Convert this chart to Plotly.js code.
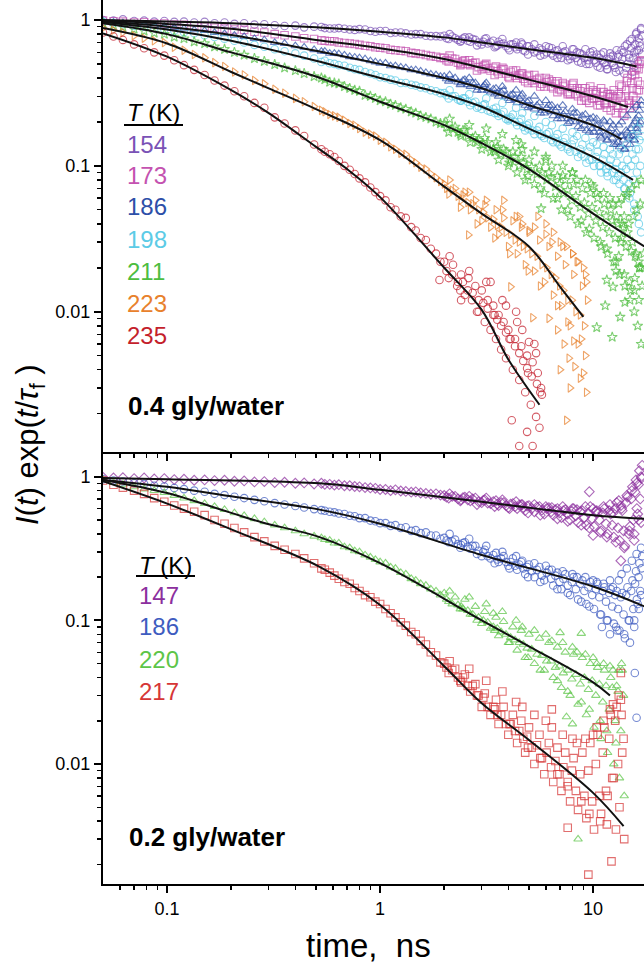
<!DOCTYPE html>
<html><head><meta charset="utf-8">
<script src="https://cdn.plot.ly/plotly-3.0.1.min.js"></script>
<style>body{margin:0;background:#fff}#chart{width:644px;height:965px}</style>
</head><body><div id="chart"></div>
<script>
// ---------- DATA ----------
// time grids (ns), shared by the series
const TA = [0.05,0.056,0.062,0.07,0.078,0.087,0.097,0.108,0.12,0.134,0.15,0.167,0.186,0.207,0.23,0.257,0.286,0.32,0.356,0.4,0.44,0.49,0.55,0.61,0.68,0.76,0.85,0.95,1.06,1.18,1.32,1.47,1.64,1.83];
const TM = [0.53,0.58,0.64,0.72,0.8,0.9,1.0,1.12,1.25,1.4,1.55,1.73,1.92];
const TB = [2.0,2.1,2.25,2.4,2.5,2.65,2.8,3.0,3.1,3.3,3.5,3.6,3.8,4.0,4.2,4.4,4.6,4.8,5.0,5.3,5.6,5.9,6.2,6.5,6.8,7.1,7.4,7.8,8.1,8.5,8.9,9.3,9.7,10.1,10.5,10.9,11.3,11.7,12.1,12.5,12.9,13.3,13.7,14.1,14.5,14.9,15.3,15.6,15.9,16.2,16.5,16.8,17.0];
const TC = [2.05,2.18,2.32,2.45,2.58,2.72,2.9,3.05,3.2,3.4,3.55,3.7,3.9,4.1,4.3,4.5,4.7,4.9,5.15,5.45,5.75,6.05,6.35,6.65,6.95,7.25,7.6,7.95,8.3,8.7,9.1,9.5,9.9,10.3,10.7,11.1,11.5,11.9,12.3,12.7,13.1,13.5,13.9,14.3,14.7,15.1,15.45,15.75,16.05,16.35,16.65,16.9];
const TD = [2.12,2.38,2.62,2.85,3.15,3.45,3.75,4.05,4.35,4.65,4.95,5.3,5.65,6.0,6.4,6.8,7.2,7.6,8.0,8.4,8.8,9.2,9.6,10.0,10.4,10.8,11.2,11.6,12.0,12.4,12.8,13.2,13.6,14.0,14.4,14.8,15.2,15.6,16.0,16.4,16.8];
const T_red_top = [2.0,2.1,2.2,2.3,2.4,2.5,2.6,2.7,2.8,2.9,3.0,3.1,3.2,3.3,3.4,3.5,3.6,3.7,3.8,3.9,4.0,4.2,4.3,4.5,4.6,4.8,4.9,5.1,5.2,5.4,5.5,5.6,5.7];

// ---- top panel: 0.4 gly/water ----
const topLabels = ["154","173","186","198","211","223","235"];
const e154 = [1.00,0.99,1.01,0.985,0.99,0.975,0.985,0.97,0.975,0.96,0.97,0.95,0.96,0.94,0.95,0.93,0.935,0.92,0.91,0.915,0.89,0.9,0.88,0.875,0.87,0.855,0.86,0.83,0.84,0.82,0.81,0.80,0.78,0.775];
const m154 = [0.895,0.875,0.88,0.86,0.865,0.84,0.84,0.815,0.82,0.795,0.80,0.775,0.77];
const l154 = [0.78,0.74,0.75,0.72,0.76,0.71,0.73,0.68,0.74,0.70,0.66,0.71,0.69,0.64,0.68,0.63,0.70,0.61,0.66,0.60,0.64,0.58,0.65,0.57,0.62,0.55,0.61,0.54,0.63,0.52,0.58,0.50,0.60,0.53,0.48,0.58,0.51,0.46,0.56,0.49,0.62,0.45,0.54,0.66,0.50,0.72,0.44,0.60,0.80,0.52,0.70,0.86,0.58];
const c154 = [0.75,0.77,0.73,0.745,0.72,0.74,0.70,0.71,0.69,0.72,0.67,0.685,0.66,0.68,0.65,0.655,0.62,0.66,0.63,0.61,0.625,0.60,0.59,0.61,0.58,0.60,0.565,0.57,0.55,0.59,0.55,0.53,0.57,0.51,0.55,0.53,0.49,0.54,0.51,0.47,0.56,0.50,0.60,0.47,0.58,0.64,0.55,0.68,0.62,0.75,0.66,0.78];
const d154 = [0.80,0.71,0.76,0.67,0.75,0.65,0.74,0.62,0.70,0.68,0.58,0.68,0.57,0.66,0.64,0.55,0.66,0.53,0.63,0.60,0.51,0.63,0.50,0.61,0.58,0.47,0.60,0.46,0.59,0.57,0.44,0.58,0.62,0.43,0.68,0.55,0.74,0.48,0.82,0.62,0.88];
const e173 = [0.99,0.98,0.975,0.96,0.965,0.945,0.945,0.93,0.925,0.905,0.90,0.885,0.875,0.86,0.855,0.83,0.82,0.80,0.785,0.77,0.75,0.74,0.72,0.715,0.695,0.685,0.665,0.65,0.64,0.62,0.61,0.59,0.575,0.56];
const m173 = [0.725,0.715,0.70,0.69,0.675,0.66,0.645,0.625,0.615,0.595,0.585,0.565,0.55];
const l173 = [0.55,0.52,0.54,0.50,0.53,0.49,0.51,0.46,0.49,0.45,0.48,0.43,0.46,0.41,0.45,0.40,0.43,0.38,0.42,0.37,0.40,0.35,0.39,0.34,0.38,0.33,0.36,0.31,0.37,0.30,0.34,0.28,0.35,0.29,0.26,0.34,0.27,0.31,0.24,0.33,0.26,0.36,0.23,0.30,0.40,0.25,0.34,0.45,0.28,0.38,0.50];
const c173 = [0.53,0.545,0.51,0.52,0.50,0.505,0.475,0.48,0.465,0.47,0.445,0.455,0.43,0.44,0.415,0.42,0.395,0.41,0.385,0.39,0.365,0.375,0.35,0.365,0.335,0.35,0.32,0.34,0.31,0.325,0.295,0.32,0.29,0.31,0.28,0.30,0.265,0.295,0.27,0.29,0.25,0.30,0.26,0.33,0.27,0.37,0.30,0.42,0.33,0.46,0.36,0.52];
const d173 = [0.57,0.49,0.53,0.45,0.50,0.42,0.47,0.40,0.45,0.43,0.37,0.42,0.35,0.40,0.38,0.32,0.37,0.31,0.36,0.34,0.28,0.34,0.27,0.33,0.32,0.26,0.32,0.25,0.31,0.30,0.23,0.31,0.35,0.22,0.38,0.28,0.42,0.26,0.47,0.33,0.53];
const e186 = [0.98,0.965,0.955,0.94,0.93,0.915,0.905,0.885,0.875,0.855,0.845,0.82,0.805,0.785,0.77,0.745,0.73,0.70,0.69,0.665,0.65,0.625,0.61,0.59,0.575,0.555,0.54,0.515,0.505,0.485,0.47,0.455,0.435,0.42];
const m186 = [0.61,0.59,0.585,0.56,0.55,0.525,0.505,0.485,0.475,0.455,0.445,0.425,0.41];
const l186 = [0.41,0.38,0.40,0.37,0.39,0.35,0.37,0.33,0.36,0.32,0.34,0.30,0.33,0.29,0.31,0.27,0.30,0.26,0.28,0.245,0.27,0.23,0.26,0.22,0.25,0.21,0.235,0.20,0.23,0.185,0.22,0.175,0.21,0.17,0.19,0.155,0.20,0.15,0.18,0.14,0.17,0.135,0.16,0.13,0.17,0.14,0.19,0.15,0.21,0.17,0.24];
const c186 = [0.395,0.39,0.375,0.385,0.36,0.37,0.345,0.35,0.33,0.335,0.315,0.32,0.30,0.305,0.285,0.29,0.27,0.275,0.255,0.26,0.24,0.25,0.235,0.24,0.22,0.225,0.21,0.215,0.20,0.205,0.19,0.20,0.18,0.19,0.17,0.18,0.165,0.17,0.155,0.165,0.145,0.16,0.15,0.175,0.155,0.18,0.16,0.20,0.18,0.22,0.20,0.26];
const d186 = [0.42,0.36,0.40,0.33,0.37,0.31,0.35,0.28,0.33,0.31,0.25,0.30,0.23,0.28,0.26,0.21,0.26,0.195,0.245,0.23,0.18,0.225,0.17,0.215,0.21,0.16,0.205,0.15,0.20,0.19,0.14,0.19,0.20,0.13,0.22,0.16,0.24,0.15,0.26,0.19,0.28];
const e198 = [0.97,0.95,0.935,0.915,0.90,0.88,0.865,0.845,0.825,0.81,0.785,0.765,0.745,0.72,0.70,0.675,0.655,0.63,0.61,0.59,0.57,0.545,0.525,0.50,0.485,0.46,0.44,0.42,0.40,0.385,0.37,0.355,0.34,0.325];
const m198 = [0.515,0.505,0.49,0.47,0.455,0.43,0.405,0.39,0.37,0.36,0.345,0.33,0.315];
const l198 = [0.315,0.29,0.30,0.28,0.29,0.26,0.275,0.245,0.265,0.235,0.25,0.22,0.235,0.205,0.225,0.19,0.21,0.175,0.195,0.165,0.185,0.155,0.17,0.145,0.165,0.135,0.155,0.125,0.15,0.115,0.14,0.105,0.135,0.10,0.125,0.09,0.12,0.085,0.11,0.08,0.105,0.075,0.10,0.07,0.11,0.065,0.12,0.055,0.13,0.045,0.15,0.035];
const c198 = [0.305,0.30,0.285,0.29,0.275,0.27,0.255,0.26,0.24,0.245,0.23,0.225,0.21,0.215,0.20,0.20,0.185,0.19,0.175,0.175,0.16,0.165,0.15,0.155,0.14,0.145,0.13,0.14,0.125,0.13,0.115,0.125,0.11,0.115,0.10,0.11,0.095,0.10,0.09,0.095,0.085,0.09,0.08,0.095,0.075,0.10,0.08,0.11,0.09,0.13,0.10,0.16];
const d198 = [0.33,0.28,0.31,0.25,0.29,0.23,0.27,0.21,0.25,0.23,0.18,0.22,0.165,0.20,0.19,0.145,0.18,0.135,0.17,0.16,0.12,0.155,0.11,0.145,0.14,0.10,0.135,0.09,0.13,0.12,0.08,0.12,0.13,0.07,0.14,0.06,0.16,0.05,0.18,0.04,0.20];
const e211 = [0.95,0.92,0.895,0.865,0.84,0.815,0.80,0.765,0.745,0.71,0.69,0.655,0.63,0.60,0.575,0.545,0.52,0.495,0.47,0.45,0.43,0.41,0.39,0.37,0.35,0.33,0.305,0.29,0.275,0.26,0.245,0.23,0.215,0.20];
const m211 = [0.40,0.375,0.365,0.34,0.325,0.30,0.28,0.265,0.25,0.235,0.22,0.21,0.195];
const l211 = [0.195,0.17,0.185,0.16,0.175,0.145,0.16,0.13,0.155,0.125,0.145,0.11,0.13,0.10,0.125,0.09,0.115,0.08,0.11,0.075,0.10,0.065,0.09,0.06,0.085,0.05,0.08,0.045,0.075,0.04,0.07,0.035,0.065,0.032,0.06,0.028,0.055,0.025,0.05,0.022,0.045,0.018,0.04,0.015,0.035,0.012,0.03,0.01,0.025,0.008,0.02,0.006,0.015];
const c211 = [0.185,0.18,0.17,0.175,0.16,0.155,0.15,0.14,0.145,0.13,0.135,0.12,0.125,0.11,0.115,0.10,0.105,0.095,0.098,0.088,0.09,0.08,0.083,0.072,0.075,0.065,0.068,0.058,0.062,0.052,0.056,0.047,0.052,0.042,0.048,0.038,0.045,0.035,0.042,0.032,0.04,0.03,0.038,0.028,0.04,0.026,0.045,0.024,0.05,0.022,0.055,0.02];
const d211 = [0.21,0.165,0.19,0.145,0.18,0.125,0.165,0.105,0.15,0.13,0.085,0.125,0.07,0.115,0.10,0.06,0.10,0.05,0.09,0.08,0.042,0.08,0.037,0.072,0.065,0.03,0.065,0.027,0.06,0.055,0.022,0.055,0.06,0.018,0.065,0.016,0.07,0.014,0.075,0.012,0.08];
const o211x = [11.6,10.4,12.3,13.4,11.4,7.2,5.7,14.4,14.0,13.6,13.2,12.8,12.4,17.3,16.5,15.7,15.0,14.1,6.0,8.0,9.8,4.6];
const o211y = [0.0165,0.0078,0.0067,0.0092,0.011,0.086,0.051,0.062,0.045,0.032,0.024,0.019,0.0148,0.025,0.02,0.017,0.014,0.0116,0.11,0.09,0.075,0.14];
const e223 = [0.88,0.85,0.82,0.78,0.75,0.72,0.70,0.65,0.62,0.58,0.55,0.51,0.48,0.44,0.42,0.385,0.365,0.335,0.315,0.29,0.275,0.255,0.235,0.22,0.205,0.19,0.17,0.16,0.145,0.13,0.12,0.105,0.095,0.083];
const m223 = [0.24,0.225,0.215,0.195,0.18,0.165,0.15,0.135,0.122,0.11,0.098,0.088,0.078];
const l223 = [0.075,0.064,0.07,0.058,0.066,0.05,0.058,0.042,0.054,0.038,0.05,0.034,0.044,0.028,0.042,0.025,0.038,0.021,0.035,0.019,0.031,0.016,0.028,0.013,0.024,0.011,0.021,0.008,0.018,0.006,0.015];
const c223 = [0.07,0.068,0.062,0.063,0.056,0.055,0.05,0.048,0.044,0.043,0.039,0.038,0.035,0.034,0.031,0.030,0.028,0.027,0.025,0.024,0.021,0.020,0.018,0.017,0.015,0.014,0.012,0.012,0.010,0.0095,0.008];
const d223 = [0.08,0.052,0.066,0.040,0.058,0.032,0.05,0.025,0.045,0.04,0.019,0.038,0.015,0.034,0.03,0.011,0.028,0.0085,0.025,0.022,0.0065,0.018];
const o223x = [9.2,9.4,7.5,9.0,8.1,7.0,4.1,2.6,5.0,5.2,7.8,5.5,6.0,6.5,7.0,7.5,8.0,8.5,9.0,9.3,6.2,6.8,7.3,7.7,8.2,8.7,9.3,4.5,3.8];
const o223y = [0.005,0.012,0.0018,0.0038,0.0063,0.004,0.0148,0.0336,0.036,0.0091,0.003,0.045,0.04,0.035,0.03,0.028,0.025,0.022,0.02,0.016,0.009,0.0075,0.006,0.0048,0.0042,0.0035,0.0028,0.045,0.058];
const e235 = [0.82,0.77,0.73,0.68,0.64,0.60,0.57,0.53,0.49,0.455,0.42,0.385,0.355,0.325,0.30,0.27,0.25,0.215,0.195,0.175,0.16,0.14,0.125,0.115,0.10,0.088,0.077,0.066,0.058,0.050,0.044,0.036,0.031,0.025];
const m235 = [0.13,0.12,0.108,0.094,0.082,0.071,0.062,0.052,0.045,0.038,0.032,0.027,0.022];
const l235 = [0.022,0.017,0.021,0.015,0.018,0.013,0.017,0.012,0.015,0.010,0.014,0.0085,0.012,0.0075,0.011,0.0065,0.0095,0.0055,0.0085,0.0048,0.0075,0.0040,0.0065,0.0034,0.0058,0.0028,0.005,0.0023,0.0045,0.0019,0.0038,0.0016,0.003];
const c235 = [0.019,0.018,0.016,0.016,0.014,0.0135,0.012,0.0115,0.0105,0.0095,0.0088,0.008,0.0072,0.0065,0.0058,0.0052,0.0046,0.0041,0.0036,0.0032,0.0027];
const d235 = [0.024,0.014,0.019,0.010,0.016,0.0095,0.012,0.0065,0.010,0.0075,0.0038,0.006,0.0028];
const o235x = [4.15,4.5,5.2,4.9,1.9,2.4,3.3,3.9,4.4,5.0,5.4];
const o235y = [0.0018,0.0012,0.0012,0.0015,0.0165,0.012,0.016,0.011,0.0085,0.0062,0.0052];

// fits (top)
const f154t = [0.05,0.1,0.2,0.5,1,2,3,5,10,16];
const f154y = [1.0,0.975,0.95,0.89,0.83,0.76,0.70,0.63,0.55,0.48];
const f173t = [0.05,0.1,0.2,0.5,1,2,3,5,10,14.6];
const f173y = [0.99,0.94,0.87,0.73,0.64,0.54,0.47,0.39,0.30,0.253];
const f186t = [0.05,0.1,0.2,0.5,1,2,3,5,10,13.6];
const f186y = [0.98,0.90,0.79,0.615,0.50,0.40,0.34,0.26,0.19,0.152];
const f198t = [0.05,0.1,0.2,0.5,1,2,3,5,10,15.4];
const f198y = [0.97,0.86,0.72,0.525,0.40,0.31,0.254,0.18,0.115,0.08];
const f211t = [0.05,0.1,0.2,0.5,1,2,3,5,10,17.4];
const f211y = [0.95,0.80,0.60,0.41,0.275,0.19,0.143,0.095,0.047,0.028];
const f223t = [0.05,0.1,0.2,0.3,0.5,1,2,3,5,7,9];
const f223y = [0.88,0.69,0.44,0.34,0.245,0.15,0.072,0.047,0.028,0.0148,0.0092];
const f235t = [0.05,0.1,0.2,0.3,0.5,0.7,1,2,3,4,5.6];
const f235y = [0.81,0.56,0.33,0.23,0.135,0.095,0.061,0.020,0.0103,0.0047,0.0023];

// ---- bottom panel: 0.2 gly/water ----
const botLabels = ["147","186","220","217"];
const e147 = [0.99,0.98,0.985,0.97,0.98,0.965,0.97,0.955,0.96,0.945,0.95,0.94,0.945,0.93,0.935,0.92,0.925,0.91,0.915,0.90,0.905,0.89,0.885,0.875,0.865,0.855,0.84,0.83,0.815,0.81,0.79,0.785,0.765,0.76];
const m147 = [0.90,0.885,0.88,0.865,0.85,0.835,0.815,0.80,0.795,0.78,0.77,0.755,0.745];
const l147 = [0.74,0.71,0.73,0.69,0.72,0.68,0.71,0.66,0.69,0.65,0.68,0.63,0.66,0.61,0.65,0.60,0.64,0.58,0.63,0.57,0.62,0.55,0.61,0.54,0.60,0.52,0.59,0.50,0.60,0.48,0.58,0.46,0.62,0.45,0.56,0.42,0.60,0.40,0.55,0.38,0.66,0.36,0.58,0.33,0.72,0.45,0.85,0.40,0.95,0.55,1.1,0.48,1.2];
const c147 = [0.72,0.73,0.70,0.715,0.69,0.70,0.67,0.685,0.655,0.67,0.645,0.66,0.63,0.645,0.62,0.635,0.61,0.625,0.60,0.615,0.585,0.60,0.57,0.59,0.56,0.58,0.55,0.575,0.535,0.57,0.52,0.56,0.51,0.57,0.50,0.56,0.47,0.58,0.46,0.60,0.44,0.63,0.42,0.66,0.40,0.70,0.50,0.78,0.60,0.88,0.70,0.98];
const d147 = [0.76,0.68,0.73,0.64,0.71,0.62,0.69,0.60,0.67,0.64,0.56,0.64,0.54,0.62,0.61,0.51,0.62,0.49,0.60,0.59,0.46,0.62,0.44,0.60,0.58,0.41,0.62,0.38,0.64,0.56,0.35,0.68,0.60,0.32,0.74,0.42,0.80,0.36,0.90,0.50,1.0];
const o147x = [9.6,10.0,13.5];
const o147y = [0.786,0.39,0.26];
const e186b = [0.96,0.94,0.925,0.90,0.89,0.865,0.855,0.835,0.82,0.80,0.785,0.76,0.745,0.725,0.71,0.69,0.675,0.655,0.64,0.625,0.61,0.595,0.58,0.565,0.55,0.53,0.515,0.49,0.475,0.46,0.445,0.425,0.41,0.39];
const m186b = [0.585,0.57,0.555,0.535,0.515,0.495,0.475,0.455,0.44,0.42,0.405,0.39,0.37];
const l186b = [0.375,0.35,0.365,0.335,0.35,0.315,0.33,0.28,0.31,0.27,0.295,0.255,0.28,0.24,0.27,0.225,0.255,0.21,0.245,0.20,0.235,0.19,0.225,0.175,0.215,0.165,0.21,0.15,0.20,0.14,0.19,0.13,0.185,0.12,0.18,0.11,0.17,0.10,0.165,0.095,0.16,0.085,0.155,0.075,0.17,0.07,0.19,0.10,0.22,0.13,0.25,0.15,0.28];
const c186b = [0.36,0.355,0.34,0.345,0.325,0.33,0.305,0.30,0.28,0.285,0.265,0.27,0.255,0.255,0.24,0.245,0.23,0.235,0.22,0.225,0.205,0.215,0.195,0.205,0.185,0.195,0.175,0.185,0.165,0.18,0.16,0.17,0.15,0.165,0.145,0.16,0.135,0.155,0.125,0.15,0.12,0.145,0.11,0.15,0.10,0.16,0.12,0.18,0.14,0.20,0.16,0.23];
const d186b = [0.40,0.32,0.37,0.29,0.33,0.25,0.30,0.23,0.28,0.26,0.20,0.25,0.185,0.24,0.225,0.165,0.22,0.155,0.21,0.20,0.135,0.20,0.125,0.19,0.185,0.11,0.18,0.10,0.19,0.17,0.09,0.19,0.21,0.08,0.23,0.10,0.26,0.09,0.29,0.12,0.32];
const o186bx = [15.7,16.0,13.0,11.0,12.0];
const o186by = [0.043,0.021,0.085,0.09,0.08];
const e220 = [0.95,0.91,0.885,0.85,0.82,0.80,0.775,0.74,0.71,0.68,0.65,0.62,0.59,0.56,0.535,0.51,0.485,0.46,0.44,0.42,0.40,0.385,0.365,0.345,0.325,0.305,0.285,0.265,0.25,0.23,0.21,0.19,0.175,0.16];
const m220 = [0.375,0.36,0.345,0.32,0.30,0.275,0.255,0.235,0.215,0.195,0.18,0.165,0.15];
const l220 = [0.155,0.135,0.145,0.125,0.14,0.11,0.125,0.095,0.115,0.088,0.105,0.078,0.098,0.07,0.09,0.062,0.085,0.055,0.08,0.05,0.075,0.045,0.07,0.04,0.065,0.034,0.06,0.03,0.058,0.026,0.055,0.022,0.05,0.018,0.047,0.015,0.045,0.012,0.04,0.010,0.035,0.008,0.045];
const c220 = [0.14,0.13,0.128,0.12,0.117,0.11,0.105,0.10,0.097,0.09,0.088,0.083,0.08,0.076,0.073,0.07,0.068,0.064,0.063,0.058,0.057,0.052,0.052,0.047,0.048,0.043,0.045,0.039,0.042,0.036,0.04,0.033,0.038,0.03,0.036,0.027,0.035,0.024,0.034,0.02,0.032,0.017,0.03];
const d220 = [0.16,0.12,0.145,0.10,0.13,0.085,0.115,0.07,0.10,0.09,0.055,0.085,0.045,0.08,0.072,0.038,0.07,0.032,0.065,0.06,0.027,0.058,0.024,0.055,0.05,0.02,0.05,0.017,0.048,0.045,0.014,0.045,0.05];
const o220x = [14.0,7.5,8.5,8.0,7.0,8.8,3.4];
const o220y = [0.006,0.0213,0.003,0.019,0.082,0.081,0.112];
const e217 = [0.94,0.88,0.84,0.80,0.76,0.71,0.67,0.63,0.60,0.57,0.54,0.50,0.47,0.44,0.41,0.38,0.355,0.33,0.31,0.29,0.27,0.25,0.225,0.205,0.185,0.168,0.15,0.135,0.12,0.105,0.092,0.08,0.068,0.057];
const m217 = [0.23,0.215,0.195,0.18,0.16,0.145,0.13,0.112,0.097,0.083,0.072,0.06,0.051];
const l217 = [0.05,0.043,0.046,0.037,0.042,0.032,0.036,0.025,0.031,0.022,0.028,0.019,0.025,0.016,0.022,0.014,0.020,0.012,0.018,0.010,0.016,0.0085,0.014,0.0075,0.013,0.0065,0.012,0.0055,0.011,0.0048,0.012,0.0042,0.014,0.0035,0.016,0.0045,0.018,0.006,0.022,0.008,0.025,0.005,0.012];
const c217 = [0.047,0.045,0.04,0.04,0.035,0.035,0.03,0.029,0.025,0.025,0.022,0.022,0.019,0.019,0.017,0.017,0.015,0.0155,0.013,0.0135,0.011,0.012,0.0095,0.0105,0.0085,0.0095,0.0075,0.009,0.0065,0.0085,0.006,0.009,0.0055,0.01,0.006,0.012,0.0065,0.015,0.008,0.02,0.01,0.028,0.015];
const d217 = [0.052,0.038,0.046,0.03,0.038,0.024,0.032,0.019,0.027,0.025,0.013,0.022,0.011,0.02,0.018,0.0085,0.016,0.007,0.015,0.014,0.0055,0.015,0.0045,0.016,0.018,0.004,0.02,0.0038,0.024,0.026,0.0035,0.03,0.022];
const o217x = [14.0,9.5,12.2,7.6,6.4,13.5];
const o217y = [0.003,0.0017,0.0021,0.0036,0.024,0.043];

// fits (bottom)
const f147t = [0.05,0.1,0.52,1,3,10,17.4];
const f147y = [0.98,0.96,0.90,0.81,0.67,0.54,0.51];
const f186bt = [0.05,0.1,0.2,0.52,1,3,10,17.4];
const f186by = [0.95,0.85,0.73,0.59,0.47,0.285,0.172,0.125];
const f220t = [0.05,0.1,0.2,0.28,0.52,1,3,5,10,12];
const f220y = [0.95,0.77,0.56,0.48,0.38,0.25,0.10,0.066,0.037,0.030];
const f217t = [0.05,0.1,0.2,0.52,1,2,3,5,10,13.9];
const f217y = [0.93,0.65,0.43,0.236,0.128,0.048,0.0265,0.0147,0.0063,0.0037];

const yTickVals = [0.01,0.1,1];
const yTickText = ["0.01","0.1","1"];
const xTickVals = [0.1,1,10];
const xTickText = ["0.1","1","10"];

// ---------- STYLE / BUILD ----------
const W=644,H=965,L=103,R=0,T=0,B=81;
const PW=W-L-R, PH=H-T-B;
const px = x => (x-L)/PW;
const py = y => (H-B-y)/PH;
const split = 1-(452)/PH;

function series(early, mid, tail, tailC, tailD, ox, oy, color, symbol, ya, tailT){
  const tt = tailT || TB;
  const x = TA.concat(TM.slice(0,mid.length)).concat(tt.slice(0, tail.length))
    .concat(TC.slice(0,tailC.length)).concat(TD.slice(0,tailD.length)).concat(ox);
  const y = early.concat(mid).concat(tail).concat(tailC).concat(tailD).concat(oy);
  return {x, y, xaxis: ya==='y2'?'x2':'x', yaxis: ya, type:'scatter', mode:'markers',
    marker:{symbol, size:7.5, color, opacity:0.72, line:{width:1.1, color}}, hoverinfo:'skip'};
}
function fit(t, y, ya){
  return {x:t, y:y, xaxis: ya==='y2'?'x2':'x', yaxis: ya, type:'scatter', mode:'lines',
    line:{color:'#111', width:2, shape:'spline', smoothing:1.0}, hoverinfo:'skip'};
}
const topColors = ['#7a52b6','#c452b0','#2d4fa8','#5ccbe6','#4dbd3f','#e8812c','#c41f2c'];
const botColors = ['#8c2f9e','#3e5cc0','#5dc548','#d63636'];

const data = [
  series(e154,m154,l154,c154,d154,[],[],topColors[0],'circle-open','y2'),
  series(e173,m173,l173,c173,d173,[],[],topColors[1],'square-open','y2'),
  series(e186,m186,l186,c186,d186,[],[],topColors[2],'triangle-up-open','y2'),
  series(e198,m198,l198,c198,d198,[],[],topColors[3],'circle-open','y2'),
  series(e211,m211,l211,c211,d211,o211x,o211y,topColors[4],'star-open','y2'),
  series(e223,m223,l223,c223,d223,o223x,o223y,topColors[5],'triangle-right-open','y2'),
  series(e235,m235,l235,c235,d235,o235x,o235y,topColors[6],'circle-open','y2',T_red_top),
  fit(f154t,f154y,'y2'),fit(f173t,f173y,'y2'),fit(f186t,f186y,'y2'),fit(f198t,f198y,'y2'),
  fit(f211t,f211y,'y2'),fit(f223t,f223y,'y2'),fit(f235t,f235y,'y2'),
  series(e147,m147,l147,c147,d147,o147x,o147y,botColors[0],'diamond-open','y'),
  series(e186b,m186b,l186b,c186b,d186b,o186bx,o186by,botColors[1],'circle-open','y'),
  series(e220,m220,l220,c220,d220,o220x,o220y,botColors[2],'triangle-up-open','y'),
  series(e217,m217,l217,c217,d217,o217x,o217y,botColors[3],'square-open','y'),
  fit(f147t,f147y,'y'),fit(f186bt,f186by,'y'),fit(f220t,f220y,'y'),fit(f217t,f217y,'y')
];

const font = {family:'Liberation Sans, Arial, sans-serif', color:'#000'};
const minorX = [0.06,0.07,0.08,0.09,0.2,0.3,0.4,0.5,0.6,0.7,0.8,0.9,2,3,4,5,6,7,8,9];
const minorY = [0.002,0.003,0.004,0.005,0.006,0.007,0.008,0.009,0.02,0.03,0.04,0.05,0.06,0.07,0.08,0.09,0.2,0.3,0.4,0.5,0.6,0.7,0.8,0.9];
const axBase = {type:'log', showline:true, linecolor:'#000', linewidth:2, ticks:'outside', ticklen:7, tickwidth:2, tickcolor:'#000',
  showgrid:false, zeroline:false, tickmode:'array', tickfont:{...font, size:18},
  minor:{tickmode:'array', ticks:'outside', ticklen:4, tickwidth:1.5, tickcolor:'#000', showgrid:false}};

const layout = {
  width:W, height:H, margin:{l:L,r:R,t:T,b:B}, showlegend:false,
  paper_bgcolor:'#fff', plot_bgcolor:'#fff', font:font,
  xaxis:{...axBase, domain:[0,1], anchor:'y', range:[Math.log10(0.05),1.239], tickvals:xTickVals, ticktext:xTickText,
    minor:{...axBase.minor, tickvals:minorX}},
  xaxis2:{...axBase, domain:[0,1], anchor:'y2', matches:'x', range:[Math.log10(0.05),1.239], tickvals:xTickVals, ticktext:xTickText, showticklabels:false,
    minor:{...axBase.minor, tickvals:minorX}},
  yaxis:{...axBase, domain:[0,split], anchor:'x', range:[-2.835,0.172], tickvals:yTickVals, ticktext:yTickText,
    minor:{...axBase.minor, tickvals:minorY}},
  yaxis2:{...axBase, domain:[split,1], anchor:'x2', range:[-2.962,0.137], tickvals:yTickVals, ticktext:yTickText,
    minor:{...axBase.minor, tickvals:minorY}},
  annotations:[], shapes:[]
};
const A = layout.annotations;
function txt(text, x, y, size, color, opts){
  A.push(Object.assign({text, xref:'paper', yref:'paper', x:px(x), y:py(y), xanchor:'left', yanchor:'middle',
    showarrow:false, font:{...font, size, color}}, opts||{}));
}
txt('<i>T</i> (K)',125,113,24,'#000');
layout.shapes.push({type:'line',xref:'paper',yref:'paper',x0:px(124),x1:px(183),y0:py(125),y1:py(125),line:{color:'#000',width:2}});
const topY=[145,176,207,239,271,303,335];
topLabels.forEach((s,i)=>txt(s,125,topY[i],24,topColors[i]));
txt('<i>T</i> (K)',137,565,24,'#000');
layout.shapes.push({type:'line',xref:'paper',yref:'paper',x0:px(136),x1:px(195),y0:py(576),y1:py(576),line:{color:'#000',width:2}});
const botY=[595,627,659,691];
botLabels.forEach((s,i)=>txt(s,137,botY[i],24,botColors[i]));
txt('<b>0.4 gly/water</b>',126,406,26,'#000');
txt('<b>0.2 gly/water</b>',127,837,26,'#000');
txt('time,\u00a0 ns',368,945,33,'#000',{xanchor:'center'});
txt('<i>I</i>(<i>t</i>) exp(<i>t</i>/<i>τ</i><sub>f</sub> )',30,445,31,'#000',{xanchor:'center',textangle:-90});

Plotly.newPlot('chart', data, layout, {staticPlot:true});
</script></body></html>
